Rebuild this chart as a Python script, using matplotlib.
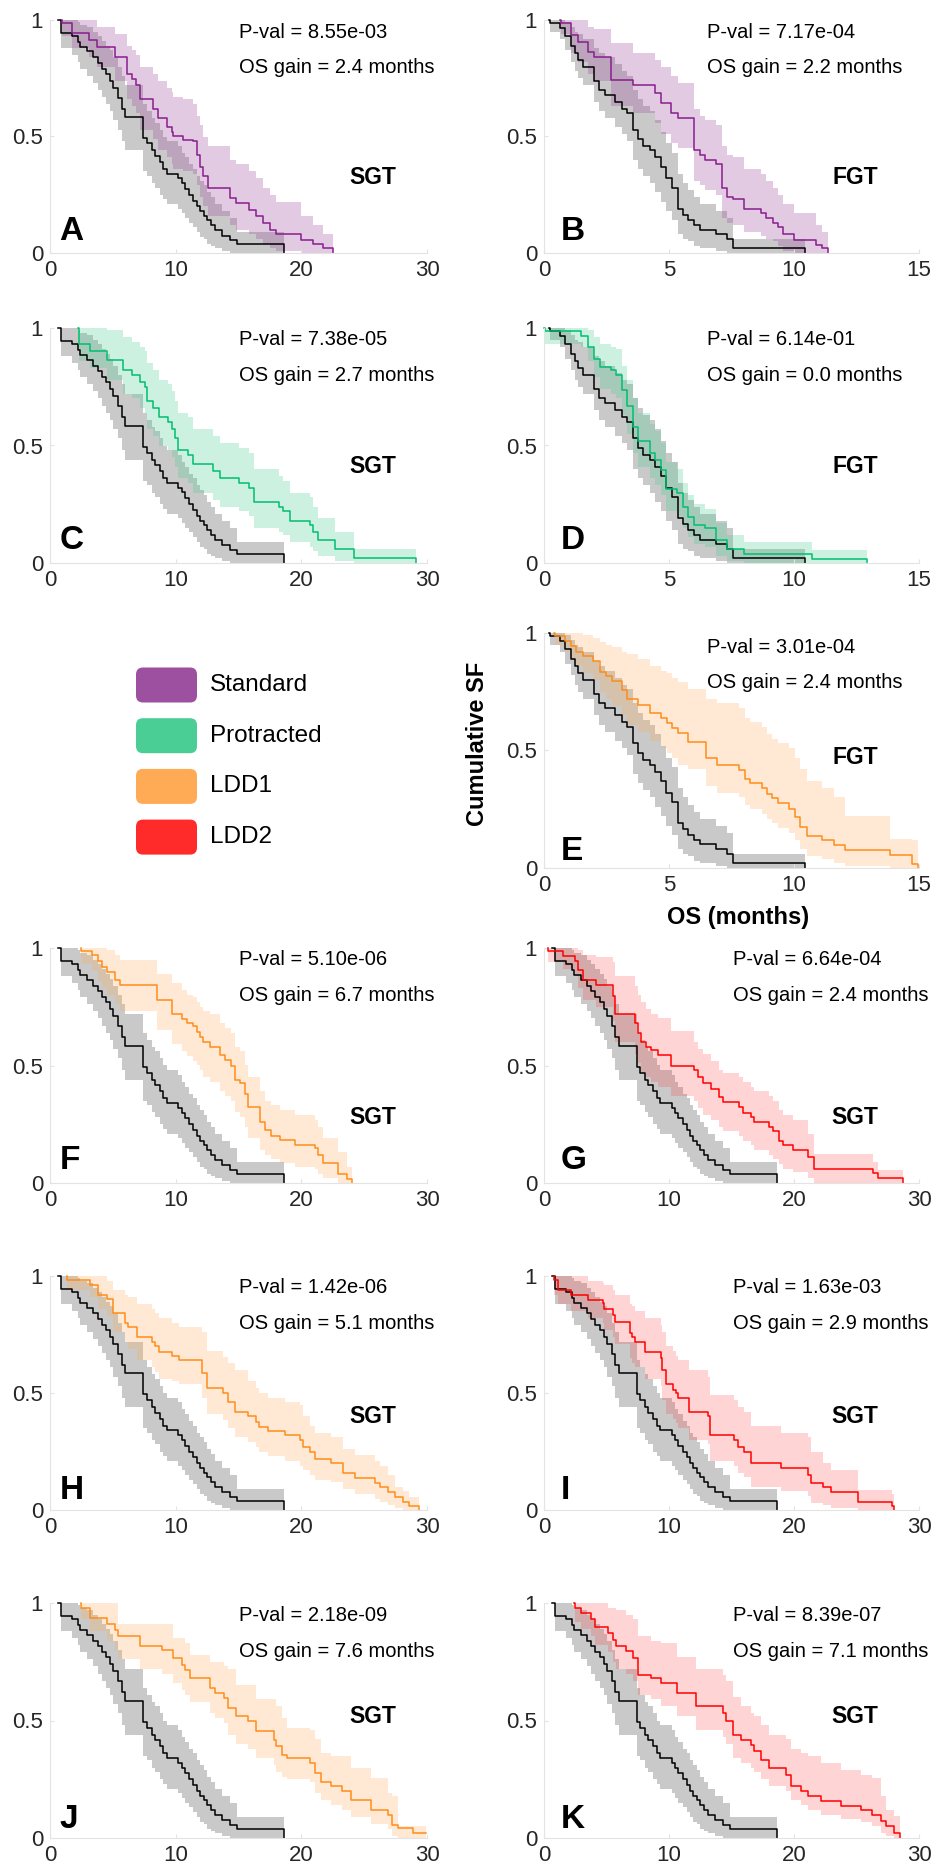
import numpy as np
import matplotlib
matplotlib.use("Agg")
import matplotlib.pyplot as plt
from matplotlib.patches import FancyBboxPatch

plt.rcParams['font.family'] = ['Liberation Sans', 'DejaVu Sans']

# ---- reference arms (black curves, same in every panel of a kind) ----
sgt_t = [0.66, 0.87, 1.72, 2.25, 2.39, 2.97, 3.45, 3.79, 4.11, 4.45, 4.77, 5.04, 5.43, 5.70, 5.96, 7.42, 7.69, 8.08, 8.35, 8.75,
         9.01, 9.28, 10.20, 10.47, 10.73, 11.08, 11.40, 11.66, 11.93, 12.24, 12.51, 12.80, 13.12, 13.65, 14.31, 14.90, 18.60]
sgt_s = [1.00, 0.946, 0.93, 0.905, 0.885, 0.865, 0.84, 0.815, 0.79, 0.77, 0.74, 0.71, 0.666, 0.62, 0.585, 0.495, 0.47, 0.44, 0.415, 0.39,
         0.36, 0.34, 0.32, 0.30, 0.275, 0.25, 0.225, 0.20, 0.18, 0.16, 0.14, 0.12, 0.10, 0.075, 0.055, 0.04, 0.0]
sgt_hi = [1.00, 1.00, 1.00, 0.99, 0.98, 0.97, 0.95, 0.93, 0.91, 0.89, 0.87, 0.84, 0.80, 0.76, 0.72, 0.64, 0.61, 0.58, 0.56, 0.53,
          0.50, 0.48, 0.46, 0.43, 0.41, 0.38, 0.36, 0.33, 0.31, 0.29, 0.26, 0.24, 0.21, 0.18, 0.15, 0.09, 0.09]
sgt_lo = [1.00, 0.88, 0.85, 0.82, 0.79, 0.76, 0.73, 0.70, 0.67, 0.64, 0.61, 0.57, 0.53, 0.48, 0.44, 0.35, 0.33, 0.30, 0.28, 0.25,
          0.23, 0.21, 0.19, 0.17, 0.15, 0.13, 0.11, 0.09, 0.07, 0.06, 0.04, 0.03, 0.02, 0.01, 0.0, 0.0, 0.0]

fgt_t = [0.19, 0.25, 0.63, 0.85, 1.09, 1.25, 1.36, 1.56, 2.00, 2.18, 2.42, 2.82, 3.11, 3.33, 3.55, 3.75, 3.95, 4.22, 4.45, 4.66,
         4.88, 5.11, 5.35, 5.55, 5.75, 5.99, 6.22, 6.88, 7.32, 7.55, 10.43]
fgt_s = [1.0, 0.986, 0.965, 0.93, 0.89, 0.86, 0.83, 0.80, 0.74, 0.70, 0.68, 0.65, 0.62, 0.60, 0.53, 0.49, 0.46, 0.44, 0.41, 0.37,
         0.32, 0.28, 0.19, 0.165, 0.14, 0.12, 0.10, 0.08, 0.06, 0.02, 0.0]
fgt_hi = [1.0, 1.0, 1.0, 0.99, 0.97, 0.95, 0.94, 0.92, 0.88, 0.86, 0.84, 0.81, 0.78, 0.76, 0.70, 0.66, 0.63, 0.61, 0.57, 0.52,
          0.47, 0.43, 0.34, 0.30, 0.27, 0.24, 0.21, 0.18, 0.15, 0.06, 0.06]
fgt_lo = [1.0, 0.95, 0.92, 0.87, 0.82, 0.78, 0.75, 0.72, 0.65, 0.61, 0.58, 0.54, 0.51, 0.48, 0.40, 0.36, 0.33, 0.30, 0.26, 0.22,
          0.18, 0.14, 0.08, 0.06, 0.05, 0.03, 0.02, 0.01, 0.0, 0.0, 0.0]

# ---- treatment arms, one set per panel ----
a_t = [0.93, 0.95, 1.72, 3.13, 3.71, 5.17, 6.10, 6.49, 6.84, 7.16, 8.22, 8.61, 9.28, 9.67, 9.80, 10.6, 11.4, 11.66, 11.93, 12.2,
       12.6, 14.3, 14.84, 15.85, 16.43, 16.96, 17.49, 18.02, 20.0, 20.9, 21.7, 22.5]
a_s = [1.0, 0.985, 0.945, 0.915, 0.885, 0.84, 0.77, 0.745, 0.72, 0.66, 0.62, 0.58, 0.54, 0.52, 0.50, 0.486, 0.48, 0.42, 0.37, 0.33,
       0.28, 0.236, 0.214, 0.186, 0.157, 0.13, 0.10, 0.08, 0.057, 0.04, 0.02, 0.0]
a_hi = [1.0, 1.0, 1.0, 1.0, 0.97, 0.94, 0.89, 0.87, 0.85, 0.80, 0.77, 0.74, 0.71, 0.69, 0.67, 0.66, 0.64, 0.59, 0.55, 0.50,
        0.46, 0.40, 0.38, 0.35, 0.32, 0.28, 0.25, 0.22, 0.16, 0.12, 0.08, 0.06]
a_lo = [1.0, 0.93, 0.88, 0.84, 0.80, 0.74, 0.66, 0.63, 0.60, 0.53, 0.49, 0.44, 0.41, 0.38, 0.36, 0.35, 0.34, 0.29, 0.24, 0.20,
        0.16, 0.12, 0.10, 0.08, 0.06, 0.04, 0.02, 0.01, 0.0, 0.0, 0.0, 0.0]

b_t = [0.63, 0.66, 1.09, 1.36, 1.76, 2.00, 2.66, 3.55, 4.42, 4.66, 5.08, 5.35, 6.00, 6.22, 6.44, 6.88, 7.10, 7.32, 7.55, 8.00,
       8.68, 8.88, 9.14, 9.35, 9.55, 10.0, 10.87, 11.1, 11.34]
b_s = [1.0, 0.986, 0.936, 0.907, 0.864, 0.843, 0.743, 0.72, 0.686, 0.643, 0.60, 0.58, 0.443, 0.42, 0.40, 0.38, 0.28, 0.24, 0.23, 0.19,
       0.17, 0.15, 0.13, 0.11, 0.08, 0.057, 0.036, 0.02, 0.0]
b_hi = [1.0, 1.0, 1.0, 1.0, 0.97, 0.96, 0.90, 0.86, 0.83, 0.80, 0.76, 0.73, 0.62, 0.59, 0.57, 0.55, 0.46, 0.42, 0.41, 0.36,
        0.34, 0.31, 0.28, 0.25, 0.21, 0.17, 0.12, 0.09, 0.07]
b_lo = [1.0, 0.94, 0.86, 0.82, 0.77, 0.74, 0.63, 0.60, 0.56, 0.51, 0.47, 0.45, 0.31, 0.29, 0.27, 0.25, 0.15, 0.13, 0.12, 0.09,
        0.075, 0.06, 0.05, 0.03, 0.01, 0.0, 0.0, 0.0, 0.0]

c_t = [2.25, 2.30, 3.18, 4.50, 5.78, 6.49, 7.16, 7.55, 7.75, 8.20, 8.70, 9.40, 9.67, 9.94, 10.2, 11.0, 11.4, 13.0, 13.5, 15.0,
       15.8, 16.2, 18.2, 18.55, 19.1, 20.7, 20.9, 21.3, 22.7, 24.2, 29.1]
c_s = [1.0, 0.93, 0.903, 0.865, 0.82, 0.80, 0.77, 0.75, 0.69, 0.66, 0.62, 0.60, 0.57, 0.53, 0.48, 0.46, 0.42, 0.39, 0.36, 0.34,
       0.32, 0.26, 0.24, 0.22, 0.18, 0.16, 0.13, 0.10, 0.06, 0.023, 0.0]
c_hi = [1.0, 1.0, 1.0, 0.99, 0.96, 0.94, 0.92, 0.90, 0.85, 0.82, 0.78, 0.76, 0.73, 0.69, 0.64, 0.62, 0.57, 0.54, 0.51, 0.49,
        0.47, 0.40, 0.37, 0.35, 0.30, 0.28, 0.24, 0.19, 0.13, 0.06, 0.06]
c_lo = [1.0, 0.86, 0.83, 0.78, 0.72, 0.70, 0.66, 0.64, 0.57, 0.54, 0.50, 0.48, 0.45, 0.41, 0.36, 0.34, 0.30, 0.27, 0.24, 0.22,
        0.20, 0.15, 0.13, 0.12, 0.09, 0.07, 0.05, 0.03, 0.01, 0.0, 0.0]

d_t = [0.0, 0.05, 1.49, 1.76, 2.00, 2.22, 2.69, 2.89, 3.11, 3.33, 3.55, 3.75, 4.22, 4.42, 4.66, 4.88, 5.32, 5.55, 5.75, 6.00,
       6.44, 6.88, 7.32, 8.00, 10.7, 12.9]
d_s = [1.0, 0.986, 0.965, 0.92, 0.87, 0.836, 0.82, 0.80, 0.737, 0.666, 0.58, 0.52, 0.467, 0.44, 0.395, 0.317, 0.296, 0.24, 0.196, 0.16,
       0.147, 0.097, 0.06, 0.04, 0.018, 0.0]
d_hi = [1.0, 1.0, 1.0, 0.99, 0.96, 0.93, 0.92, 0.91, 0.84, 0.78, 0.70, 0.64, 0.59, 0.56, 0.51, 0.43, 0.40, 0.34, 0.29, 0.25,
        0.23, 0.17, 0.12, 0.09, 0.057, 0.057]
d_lo = [1.0, 0.93, 0.92, 0.86, 0.79, 0.74, 0.72, 0.70, 0.63, 0.55, 0.47, 0.41, 0.36, 0.33, 0.29, 0.22, 0.20, 0.15, 0.11, 0.08,
        0.07, 0.03, 0.01, 0.0, 0.0, 0.0]

e_t = [0.40, 0.42, 0.83, 1.09, 1.29, 1.56, 1.96, 2.23, 2.46, 2.70, 3.10, 3.33, 3.76, 4.23, 4.67, 4.90, 5.12, 5.36, 5.77, 6.46,
       6.90, 7.80, 8.03, 8.23, 8.70, 8.90, 9.13, 9.37, 9.80, 10.04, 10.24, 10.50, 11.13, 11.60, 12.04, 13.84, 14.73, 14.95]
e_s = [1.0, 0.986, 0.965, 0.943, 0.92, 0.90, 0.88, 0.836, 0.815, 0.794, 0.758, 0.72, 0.694, 0.66, 0.637, 0.616, 0.595, 0.573, 0.538, 0.467,
       0.438, 0.417, 0.38, 0.36, 0.34, 0.317, 0.296, 0.277, 0.253, 0.218, 0.175, 0.135, 0.118, 0.097, 0.078, 0.054, 0.016, 0.0]
e_hi = [1.0, 1.0, 1.0, 1.0, 1.0, 0.99, 0.98, 0.96, 0.95, 0.94, 0.92, 0.91, 0.89, 0.86, 0.84, 0.83, 0.81, 0.79, 0.76, 0.72,
        0.70, 0.68, 0.64, 0.62, 0.60, 0.57, 0.55, 0.53, 0.51, 0.47, 0.42, 0.37, 0.34, 0.30, 0.22, 0.125, 0.12, 0.12]
e_lo = [1.0, 0.95, 0.92, 0.89, 0.86, 0.83, 0.80, 0.75, 0.72, 0.69, 0.65, 0.61, 0.58, 0.54, 0.51, 0.49, 0.47, 0.44, 0.42, 0.35,
        0.32, 0.30, 0.27, 0.25, 0.23, 0.21, 0.19, 0.17, 0.15, 0.12, 0.08, 0.05, 0.04, 0.02, 0.01, 0.0, 0.0, 0.0]

f_t = [2.44, 2.50, 3.31, 3.84, 4.11, 4.50, 5.17, 5.57, 8.48, 9.67, 10.47, 10.87, 11.40, 11.66, 11.93, 12.2, 12.72, 13.52, 13.90, 14.44,
       14.70, 15.10, 15.50, 15.77, 16.70, 17.10, 17.60, 18.30, 19.50, 21.10, 21.30, 21.70, 22.90, 23.60, 24.00]
f_s = [1.0, 0.986, 0.97, 0.943, 0.92, 0.90, 0.865, 0.843, 0.78, 0.72, 0.70, 0.68, 0.666, 0.644, 0.623, 0.60, 0.58, 0.545, 0.523, 0.50,
       0.44, 0.425, 0.38, 0.324, 0.26, 0.225, 0.20, 0.185, 0.16, 0.147, 0.12, 0.083, 0.04, 0.018, 0.0]
f_hi = [1.0, 1.0, 1.0, 1.0, 1.0, 0.99, 0.97, 0.95, 0.89, 0.85, 0.82, 0.80, 0.79, 0.77, 0.75, 0.73, 0.72, 0.68, 0.66, 0.64,
        0.58, 0.56, 0.50, 0.45, 0.39, 0.35, 0.33, 0.31, 0.29, 0.27, 0.24, 0.19, 0.13, 0.07, 0.07]
f_lo = [1.0, 0.93, 0.90, 0.86, 0.83, 0.80, 0.76, 0.73, 0.65, 0.59, 0.56, 0.54, 0.52, 0.50, 0.48, 0.45, 0.43, 0.39, 0.37, 0.35,
        0.30, 0.28, 0.24, 0.19, 0.14, 0.12, 0.10, 0.085, 0.07, 0.06, 0.04, 0.02, 0.0, 0.0, 0.0]

g_t = [0.32, 0.35, 1.52, 2.45, 2.70, 3.11, 4.18, 5.51, 5.65, 7.24, 7.50, 7.77, 8.17, 8.57, 9.10, 10.17, 12.03, 12.30, 12.70, 13.36,
       14.03, 14.30, 15.60, 15.90, 16.56, 16.82, 18.0, 18.29, 18.80, 19.10, 19.90, 21.10, 21.60, 26.30, 26.70, 28.70]
g_s = [1.0, 0.986, 0.965, 0.943, 0.907, 0.865, 0.843, 0.794, 0.72, 0.68, 0.637, 0.60, 0.58, 0.566, 0.545, 0.50, 0.48, 0.45, 0.424, 0.40,
       0.367, 0.346, 0.324, 0.30, 0.28, 0.26, 0.24, 0.22, 0.18, 0.16, 0.14, 0.11, 0.06, 0.043, 0.023, 0.0]
g_hi = [1.0, 1.0, 1.0, 1.0, 0.99, 0.97, 0.96, 0.94, 0.88, 0.84, 0.80, 0.77, 0.74, 0.72, 0.70, 0.645, 0.60, 0.57, 0.55, 0.52,
        0.48, 0.47, 0.45, 0.43, 0.41, 0.39, 0.37, 0.35, 0.31, 0.29, 0.27, 0.21, 0.125, 0.09, 0.057, 0.057]
g_lo = [1.0, 0.94, 0.91, 0.88, 0.83, 0.78, 0.75, 0.69, 0.60, 0.55, 0.51, 0.47, 0.45, 0.43, 0.41, 0.37, 0.35, 0.32, 0.29, 0.27,
        0.24, 0.22, 0.20, 0.18, 0.16, 0.14, 0.12, 0.10, 0.08, 0.06, 0.045, 0.02, 0.0, 0.0, 0.0, 0.0]

h_t = [1.33, 1.36, 3.18, 3.84, 4.50, 4.98, 5.05, 5.96, 6.23, 6.89, 8.08, 8.35, 8.70, 9.67, 10.30, 12.06, 12.46, 13.80, 14.18, 14.70,
       15.77, 16.43, 16.60, 17.36, 18.69, 19.88, 20.14, 20.67, 21.07, 22.40, 23.30, 24.25, 25.84, 26.24, 26.90, 27.43, 28.10, 28.60, 29.37]
h_s = [1.0, 0.983, 0.96, 0.92, 0.90, 0.876, 0.84, 0.80, 0.78, 0.74, 0.72, 0.70, 0.677, 0.66, 0.64, 0.584, 0.52, 0.50, 0.463, 0.42,
       0.40, 0.377, 0.356, 0.339, 0.32, 0.30, 0.27, 0.25, 0.22, 0.20, 0.157, 0.135, 0.117, 0.10, 0.078, 0.057, 0.036, 0.017, 0.0]
h_hi = [1.0, 1.0, 1.0, 1.0, 0.98, 0.96, 0.94, 0.92, 0.91, 0.88, 0.86, 0.84, 0.82, 0.80, 0.78, 0.76, 0.68, 0.655, 0.63, 0.60,
        0.55, 0.52, 0.50, 0.48, 0.46, 0.45, 0.40, 0.36, 0.33, 0.31, 0.26, 0.235, 0.21, 0.19, 0.15, 0.10, 0.08, 0.057, 0.057]
h_lo = [1.0, 0.94, 0.91, 0.86, 0.83, 0.80, 0.76, 0.72, 0.69, 0.64, 0.61, 0.59, 0.56, 0.55, 0.54, 0.48, 0.41, 0.385, 0.35, 0.31,
        0.29, 0.27, 0.25, 0.23, 0.21, 0.19, 0.17, 0.15, 0.13, 0.12, 0.09, 0.07, 0.045, 0.035, 0.02, 0.01, 0.0, 0.0, 0.0]

i_t = [0.80, 0.82, 1.12, 2.18, 3.51, 4.71, 4.80, 5.51, 5.65, 6.90, 7.05, 7.24, 8.04, 9.37, 9.45, 9.77, 10.30, 10.57, 10.75, 11.63,
       13.10, 13.25, 15.20, 15.50, 16.00, 16.56, 18.95, 21.08, 21.35, 22.30, 22.94, 25.10, 27.87, 28.00]
i_s = [1.0, 0.983, 0.94, 0.92, 0.897, 0.883, 0.86, 0.833, 0.805, 0.755, 0.74, 0.72, 0.677, 0.648, 0.598, 0.54, 0.513, 0.50, 0.477, 0.42,
       0.40, 0.32, 0.30, 0.27, 0.25, 0.20, 0.178, 0.15, 0.117, 0.10, 0.078, 0.036, 0.017, 0.0]
i_hi = [1.0, 1.0, 1.0, 1.0, 0.98, 0.97, 0.96, 0.94, 0.92, 0.88, 0.87, 0.85, 0.82, 0.79, 0.76, 0.70, 0.68, 0.66, 0.64, 0.60,
        0.57, 0.49, 0.47, 0.44, 0.42, 0.36, 0.33, 0.31, 0.25, 0.20, 0.17, 0.085, 0.07, 0.07]
i_lo = [1.0, 0.92, 0.88, 0.85, 0.82, 0.80, 0.77, 0.74, 0.71, 0.65, 0.63, 0.61, 0.56, 0.53, 0.47, 0.41, 0.39, 0.37, 0.35, 0.30,
        0.28, 0.21, 0.19, 0.16, 0.14, 0.10, 0.08, 0.06, 0.03, 0.02, 0.01, 0.0, 0.0, 0.0]

j_t = [2.44, 2.46, 3.18, 4.50, 5.17, 5.45, 7.16, 8.88, 9.80, 10.47, 10.73, 11.13, 12.72, 13.12, 13.84, 14.18, 14.84, 15.77, 16.43, 17.80,
       18.00, 18.50, 18.87, 20.67, 21.07, 21.60, 22.40, 23.20, 23.98, 25.57, 26.90, 27.25, 27.70, 28.90, 29.95]
j_s = [1.0, 0.98, 0.936, 0.91, 0.887, 0.858, 0.816, 0.80, 0.766, 0.738, 0.716, 0.68, 0.638, 0.617, 0.596, 0.553, 0.518, 0.496, 0.454, 0.418,
       0.39, 0.355, 0.34, 0.32, 0.277, 0.24, 0.22, 0.20, 0.163, 0.12, 0.10, 0.057, 0.043, 0.021, 0.021]
j_hi = [1.0, 1.0, 1.0, 1.0, 1.0, 0.91, 0.91, 0.91, 0.85, 0.85, 0.83, 0.78, 0.75, 0.75, 0.73, 0.72, 0.65, 0.65, 0.59, 0.59,
        0.56, 0.51, 0.47, 0.46, 0.42, 0.36, 0.35, 0.35, 0.30, 0.255, 0.19, 0.18, 0.05, 0.05, 0.05]
j_lo = [1.0, 0.93, 0.88, 0.84, 0.80, 0.76, 0.72, 0.70, 0.66, 0.63, 0.61, 0.58, 0.53, 0.51, 0.49, 0.44, 0.40, 0.38, 0.34, 0.31,
        0.28, 0.26, 0.25, 0.24, 0.19, 0.16, 0.14, 0.12, 0.09, 0.06, 0.04, 0.01, 0.0, 0.0, 0.0]

k_t = [2.40, 2.45, 2.98, 3.78, 4.05, 5.11, 5.51, 5.78, 6.57, 7.10, 7.50, 8.57, 9.37, 10.65, 12.16, 14.30, 14.56, 15.09, 15.76, 16.56,
       16.82, 17.35, 18.00, 19.35, 19.75, 20.55, 21.08, 22.15, 23.74, 25.34, 26.27, 26.94, 27.34, 28.00, 28.50]
k_s = [1.0, 0.98, 0.957, 0.93, 0.90, 0.872, 0.844, 0.816, 0.794, 0.766, 0.695, 0.68, 0.66, 0.617, 0.56, 0.532, 0.496, 0.44, 0.418, 0.397,
       0.37, 0.333, 0.298, 0.27, 0.22, 0.20, 0.177, 0.156, 0.135, 0.12, 0.10, 0.071, 0.05, 0.021, 0.0]
k_hi = [1.0, 1.0, 1.0, 1.0, 1.0, 0.98, 0.98, 0.97, 0.95, 0.93, 0.86, 0.84, 0.83, 0.77, 0.72, 0.695, 0.67, 0.60, 0.56, 0.53,
        0.52, 0.48, 0.44, 0.42, 0.38, 0.36, 0.35, 0.32, 0.29, 0.27, 0.255, 0.18, 0.12, 0.092, 0.092]
k_lo = [1.0, 0.92, 0.89, 0.86, 0.82, 0.79, 0.75, 0.72, 0.70, 0.67, 0.61, 0.59, 0.56, 0.52, 0.46, 0.43, 0.40, 0.34, 0.32, 0.30,
        0.28, 0.25, 0.22, 0.20, 0.16, 0.14, 0.12, 0.10, 0.08, 0.07, 0.05, 0.02, 0.01, 0.0, 0.0]

letters = ["A", "B", "C", "D", "E", "F", "G", "H", "I", "J", "K"]
schedules = ["SGT", "FGT", "SGT", "FGT", "FGT", "SGT", "SGT", "SGT", "SGT", "SGT", "SGT"]
arms = ["Standard", "Standard", "Protracted", "Protracted", "LDD1", "LDD1", "LDD2", "LDD1", "LDD2", "LDD1", "LDD2"]
p_values = [8.55e-03, 7.17e-04, 7.38e-05, 6.14e-01, 3.01e-04, 5.10e-06, 6.64e-04, 1.42e-06, 1.63e-03, 2.18e-09, 8.39e-07]
os_gains = [2.4, 2.2, 2.7, 0.0, 2.4, 6.7, 2.4, 5.1, 2.9, 7.6, 7.1]
curves = [(a_t, a_s, a_lo, a_hi), (b_t, b_s, b_lo, b_hi), (c_t, c_s, c_lo, c_hi), (d_t, d_s, d_lo, d_hi),
          (e_t, e_s, e_lo, e_hi), (f_t, f_s, f_lo, f_hi), (g_t, g_s, g_lo, g_hi), (h_t, h_s, h_lo, h_hi),
          (i_t, i_s, i_lo, i_hi), (j_t, j_s, j_lo, j_hi), (k_t, k_s, k_lo, k_hi)]

legend_labels = ["Standard", "Protracted", "LDD1", "LDD2"]
legend_colors = {"Standard": "#9E50A0", "Protracted": "#4BCD96", "LDD1": "#FFAA55", "LDD2": "#FF2A2A"}
line_colors = {"Standard": "#8A1C8E", "Protracted": "#00BF6F", "LDD1": "#FF8C1A", "LDD2": "#FF0000"}
band_alpha = {"Standard": 0.30, "Protracted": 0.28, "LDD1": 0.25, "LDD2": 0.20}

# layout (pixels of the 938x1870 canvas)
W, H = 938, 1870
col_x = [(50, 377), (544, 375)]
row_y = [(20, 253), (328, 563), (633, 868), (948, 1183), (1276, 1510), (1603, 1838)]
slots = [(0, 0), (0, 1), (1, 0), (1, 1), (2, 1), (3, 0), (3, 1), (4, 0), (4, 1), (5, 0), (5, 1)]
sched_y = [0.326, 0.326, 0.41, 0.41, 0.47, 0.277, 0.277, 0.40, 0.40, 0.515, 0.515]
text_y = [0.948, 0.948, 0.949, 0.949, 0.94, 0.949, 0.949, 0.949, 0.949, 0.945, 0.945]
text_x = [0.50, 0.435, 0.50, 0.435, 0.435, 0.50, 0.505, 0.50, 0.505, 0.50, 0.505]
letter_y = [0.056, 0.056, 0.06, 0.06, 0.034, 0.06, 0.06, 0.047, 0.047, 0.043, 0.043]

fig = plt.figure(figsize=(W / 100, H / 100), dpi=100)


def draw_panel(ax, ref, arm, curve):
    rt, rs, rlo, rhi = ref
    t, s, lo, hi = curve
    ax.fill_between(rt, rlo, rhi, step="post", color="black", alpha=0.21, lw=0)
    ax.fill_between(t, lo, hi, step="post", color=legend_colors[arm], alpha=band_alpha[arm], lw=0)
    ax.step(rt, rs, where="post", color="black", lw=1.1, clip_on=False)
    ax.step(t, s, where="post", color=line_colors[arm], lw=1.1, clip_on=False)


for k in range(len(letters)):
    r, c = slots[k]
    x0, w = col_x[c]
    top, bot = row_y[r]
    ax = fig.add_axes([x0 / W, 1 - bot / H, w / W, (bot - top) / H])

    if schedules[k] == "SGT":
        ref = (sgt_t, sgt_s, sgt_lo, sgt_hi)
        ax.set_xlim(0, 30)
        ax.set_xticks([0, 10, 20, 30])
    else:
        ref = (fgt_t, fgt_s, fgt_lo, fgt_hi)
        ax.set_xlim(0, 15)
        ax.set_xticks([0, 5, 10, 15])
    ax.set_ylim(0, 1)
    ax.set_yticks([0, 0.5, 1])
    ax.set_yticklabels(["0", "0.5", "1"])

    draw_panel(ax, ref, arms[k], curves[k])

    for side in ["top", "right"]:
        ax.spines[side].set_visible(False)
    for side in ["left", "bottom"]:
        ax.spines[side].set_color("#E3E3E3")
        ax.spines[side].set_linewidth(0.8)
    ax.tick_params(direction="in", length=3, color="#E3E3E3", labelsize=16, labelcolor="#262626")
    ax.tick_params(axis="x", pad=5)
    ax.tick_params(axis="y", pad=5)

    ax.text(text_x[k], text_y[k], f"P-val = {p_values[k]:.2e}", transform=ax.transAxes,
            fontsize=14.5, ha="left", va="center")
    ax.text(text_x[k], text_y[k] - 0.152, f"OS gain = {os_gains[k]:.1f} months", transform=ax.transAxes,
            fontsize=14.5, ha="left", va="center")
    sx = 0.855 if c == 0 else 0.83
    ax.text(sx, sched_y[k], schedules[k], transform=ax.transAxes, fontsize=16.5,
            fontweight="bold", ha="center", va="center")
    lx = 0.025 if c == 0 else 0.045
    ax.text(lx, letter_y[k], letters[k], transform=ax.transAxes, fontsize=24,
            fontweight="bold", ha="left", va="baseline")

    if letters[k] == "E":
        ax.set_ylabel("Cumulative SF", fontsize=17, fontweight="bold", va="center")
        ax.yaxis.set_label_coords(-0.176, 0.53)
        ax.set_xlabel("OS (months)", fontsize=17, fontweight="bold", va="center")
        ax.xaxis.set_label_coords(0.517, -0.21)

# legend block in the empty slot of row 3
lg = fig.add_axes([120 / W, 1 - 865 / H, 280 / W, 210 / H])
lg.set_xlim(0, 280)
lg.set_ylim(210, 0)
lg.axis("off")
for i, lab in enumerate(legend_labels):
    yc = 30 + i * 50.7
    lg.add_patch(FancyBboxPatch((16, yc - 17.5), 61, 35, boxstyle="round,pad=0,rounding_size=7",
                                facecolor=legend_colors[lab], edgecolor="none"))
    lg.text(90, yc, lab, fontsize=17.5, ha="left", va="center")

fig.savefig("out.png", dpi=100)
